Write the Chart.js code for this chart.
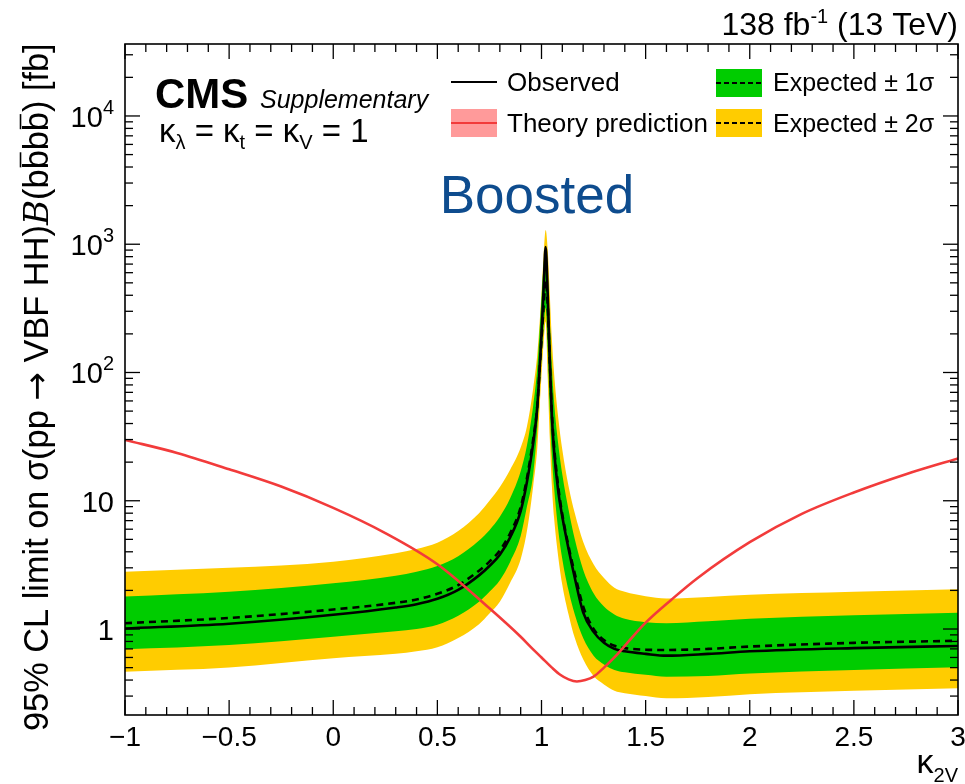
<!DOCTYPE html>
<html lang="en">
<head>
<meta charset="UTF-8">
<title>VBF HH boosted limit vs k2V</title>
<script src="https://cdn.jsdelivr.net/npm/chart.js"></script>
<style>
    body { margin: 0; background: #fff; }
    #wrap { position: relative; width: 965px; height: 784px; }
</style>
</head>
<body>
<div id="wrap"><canvas id="limitChart"></canvas></div>
<script>
// kappa_2V scan points for the limit curves (dense around the peak near 1)
const kappa = [-1, -0.5, 0, 0.3, 0.4, 0.5, 0.6, 0.7, 0.75, 0.8, 0.85, 0.9, 0.93, 0.96, 0.98, 0.99, 1.0, 1.01, 1.02,
               1.03, 1.04, 1.05, 1.06, 1.08, 1.1, 1.13, 1.16, 1.2, 1.25, 1.3, 1.35, 1.4, 1.5, 1.6, 1.8, 2.0, 2.5, 3.0];

// limits in fb
const observed = [1.01, 1.10, 1.29, 1.47, 1.56, 1.72, 2.02, 2.62, 3.1, 3.8, 5.2, 8.3, 14, 28, 55, 100, 200, 450, 950,
                  400, 120, 45, 25, 12, 7.5, 4.2, 2.5, 1.35, 0.95, 0.78, 0.70, 0.67, 0.64, 0.62, 0.64, 0.67, 0.71, 0.737];
const expected = [1.11, 1.22, 1.42, 1.60, 1.70, 1.88, 2.2, 2.85, 3.35, 4.1, 5.6, 8.9, 15, 30, 55, 100, 180, 330, 520,
                  330, 120, 48, 27, 13, 7.8, 4.4, 2.7, 1.5, 1.0, 0.82, 0.74, 0.71, 0.69, 0.686, 0.70, 0.73, 0.78, 0.81];
const plus1 = [1.79, 1.95, 2.27, 2.6, 2.8, 3.1, 3.7, 4.9, 5.9, 7.5, 10.5, 17, 27, 55, 110, 200, 380, 680, 930,
               600, 250, 110, 60, 28, 16, 8.5, 5, 2.9, 1.9, 1.5, 1.3, 1.2, 1.13, 1.11, 1.15, 1.2, 1.28, 1.34];
const minus1 = [0.695, 0.75, 0.871, 0.96, 1.0, 1.08, 1.27, 1.63, 1.95, 2.4, 3.35, 5.3, 9, 16, 38, 70, 130, 220, 320,
                150, 50, 22, 13, 6, 3.5, 2.0, 1.3, 0.85, 0.62, 0.53, 0.48, 0.46, 0.44, 0.425, 0.43, 0.45, 0.48, 0.503];
const plus2 = [2.80, 3.0, 3.35, 3.9, 4.2, 4.7, 5.8, 8.0, 10.0, 12.8, 17.5, 26, 38, 75, 140, 230, 420, 800, 1290,
               900, 400, 180, 100, 45, 25, 13, 8, 4.8, 3.2, 2.5, 2.1, 1.95, 1.8, 1.73, 1.78, 1.85, 1.95, 2.04];
const minus2 = [0.465, 0.50, 0.591, 0.64, 0.67, 0.72, 0.85, 1.09, 1.32, 1.63, 2.3, 3.5, 5.8, 13, 26, 50, 95, 170, 250,
                90, 30, 13, 7.5, 3.7, 2.2, 1.3, 0.85, 0.58, 0.43, 0.37, 0.33, 0.315, 0.30, 0.288, 0.295, 0.31, 0.33, 0.345];

// theory prediction for VBF HH -> bbbb
const theoryKappa = [-1, -0.75, -0.5, -0.25, 0, 0.25, 0.5, 0.75, 0.9, 0.95, 1.0, 1.05, 1.09, 1.13, 1.17, 1.21, 1.25,
                     1.3, 1.35, 1.4, 1.5, 1.625, 1.75, 2.0, 2.25, 2.5, 2.75, 3.0];
const theory = [29.8, 23.6, 17.6, 12.9, 8.8, 5.6, 3.2, 1.45, 0.87, 0.72, 0.60, 0.50, 0.44, 0.405, 0.39, 0.40, 0.425,
                0.50, 0.60, 0.74, 1.12, 1.7, 2.5, 4.75, 7.9, 11.6, 16.1, 21.4];

// axis ticks and labels
const xLabelValues = [-1, -0.5, 0, 0.5, 1, 1.5, 2, 2.5, 3];
const xLabels = ['\u22121', '\u22120.5', '0', '0.5', '1', '1.5', '2', '2.5', '3'];
const yLabelValues = [1, 10, 100, 1000, 10000];
const yLabelBase = ['1', '10', '10', '10', '10'];
const yLabelExp = ['', '', '2', '3', '4'];

const X_MIN = -1, X_MAX = 3, Y_MIN = 0.2136, Y_MAX = 36400;
const YELLOW = '#ffcc00', GREEN = '#00cc00', RED = '#f23b3b';
const FONT = '"Liberation Sans", Arial, sans-serif';
const ARROW_FONT = '"DejaVu Sans", sans-serif';

const pts = (xs, ys) => xs.map((k, i) => ({ x: k, y: ys[i] }));

function line(ctx, x1, y1, x2, y2) {
    ctx.beginPath();
    ctx.moveTo(x1, y1);
    ctx.lineTo(x2, y2);
    ctx.stroke();
}

// text with optional sub/superscript pieces: [text, fontSize, dy, style]
function drawRich(ctx, x, y, parts) {
    let cx = x;
    for (const [t, size, dy, style] of parts) {
        ctx.font = (style || '') + ' ' + size + 'px ' + FONT;
        ctx.fillText(t, cx, y + (dy || 0));
        cx += ctx.measureText(t).width;
    }
    return cx;
}

// y title pieces: [text, font family, italic, overline]
const titlePieces = [
    ['95% CL limit on \u03c3(pp ', FONT, false, false],
    ['\u2192', ARROW_FONT, false, false],
    [' VBF HH)', FONT, false, false],
    ['B', '"DejaVu Serif", serif', true, false],
    ['(b', FONT, false, false],
    ['b', FONT, false, true],
    ['b', FONT, false, false],
    ['b', FONT, false, true],
    [') [fb]', FONT, false, false]
];

const overlay = {
    id: 'cmsOverlay',
    afterDraw(chart) {
        const { ctx, chartArea: a, scales: { x, y } } = chart;
        ctx.save();
        ctx.strokeStyle = '#000';
        ctx.fillStyle = '#000';

        // frame
        ctx.lineWidth = 1.6;
        ctx.strokeRect(a.left, a.top, a.right - a.left, a.bottom - a.top);

        // x ticks, inward on bottom and top
        ctx.lineWidth = 1.3;
        for (let i = 0; i <= 40; i++) {
            const px = x.getPixelForValue(X_MIN + i * 0.1);
            const len = i % 5 === 0 ? 15 : 8;
            line(ctx, px, a.bottom, px, a.bottom - len);
            line(ctx, px, a.top, px, a.top + len);
        }
        // y ticks, inward on left and right
        for (let d = -1; d <= 4; d++) {
            for (let m = 1; m <= 9; m++) {
                const v = m * Math.pow(10, d);
                if (v < Y_MIN || v > Y_MAX) continue;
                const py = y.getPixelForValue(v);
                const len = m === 1 ? 15 : 8;
                line(ctx, a.left, py, a.left + len, py);
                line(ctx, a.right, py, a.right - len, py);
            }
        }

        // x tick labels
        ctx.font = '28px ' + FONT;
        ctx.textAlign = 'center';
        ctx.textBaseline = 'alphabetic';
        xLabelValues.forEach((v, i) => {
            ctx.fillText(xLabels[i], x.getPixelForValue(v), a.bottom + 31);
        });

        // y tick labels (powers of ten)
        ctx.textAlign = 'left';
        yLabelValues.forEach((v, i) => {
            const py = y.getPixelForValue(v) + 11;
            ctx.font = '29px ' + FONT;
            const wBase = ctx.measureText(yLabelBase[i]).width;
            ctx.font = '20px ' + FONT;
            const wExp = yLabelExp[i] ? ctx.measureText(yLabelExp[i]).width : 0;
            const x0 = a.left - 11 - wBase - wExp;
            drawRich(ctx, x0, py, [[yLabelBase[i], 29], [yLabelExp[i], 20, -13]]);
        });

        // x axis title
        ctx.textAlign = 'right';
        ctx.font = '20px ' + FONT;
        const wSub = ctx.measureText('2V').width;
        ctx.fillText('2V', a.right, 782);
        ctx.font = '34px ' + FONT;
        ctx.fillText('\u03ba', a.right - wSub, 773);

        // y axis title, rotated, spanning the frame height
        const setFont = (p, fs) => { ctx.font = (p[2] ? 'italic ' : '') + fs + 'px ' + p[1]; };
        let wTitle = 0;
        for (const p of titlePieces) { setFont(p, 34); wTitle += ctx.measureText(p[0]).width; }
        const fs = 34 * 688 / wTitle;
        ctx.save();
        ctx.translate(48, 731);
        ctx.rotate(-Math.PI / 2);
        ctx.textAlign = 'left';
        let cx = 0;
        for (const p of titlePieces) {
            setFont(p, fs);
            ctx.fillText(p[0], cx, 0);
            const w = ctx.measureText(p[0]).width;
            if (p[3]) {
                ctx.lineWidth = 1.6;
                line(ctx, cx + 2, -fs * 0.8, cx + w - 2, -fs * 0.8);
            }
            cx += w;
        }
        ctx.restore();

        // luminosity label
        ctx.textAlign = 'left';
        const lumiParts = [['138 fb', 32], ['-1', 20, -12], [' (13 TeV)', 32]];
        let wl = 0;
        for (const [t, s] of lumiParts) { ctx.font = s + 'px ' + FONT; wl += ctx.measureText(t).width; }
        drawRich(ctx, a.right - wl, 35, lumiParts);

        // CMS label
        ctx.font = 'bold 42px ' + FONT;
        ctx.fillText('CMS', 155, 108);
        ctx.font = 'italic 25px ' + FONT;
        ctx.fillText('Supplementary', 260, 108);
        drawRich(ctx, 159, 142, [
            ['\u03ba', 33], ['\u03bb', 20, 7], [' = \u03ba', 33], ['t', 20, 7],
            [' = \u03ba', 33], ['V', 20, 7], [' = 1', 33]
        ]);

        // region label
        ctx.fillStyle = '#0e4c8e';
        ctx.font = '53px ' + FONT;
        ctx.textAlign = 'center';
        ctx.fillText('Boosted', 537, 213);

        // legend
        ctx.textAlign = 'left';
        ctx.fillStyle = '#000';
        ctx.lineWidth = 2.2;
        line(ctx, 451, 82, 497, 82);
        ctx.fillStyle = '#ff9a9a';
        ctx.fillRect(451, 109, 46, 28);
        ctx.strokeStyle = RED;
        line(ctx, 451, 123, 497, 123);
        ctx.fillStyle = GREEN;
        ctx.fillRect(716, 69, 46, 28);
        ctx.fillStyle = YELLOW;
        ctx.fillRect(716, 109, 46, 28);
        ctx.strokeStyle = '#000';
        ctx.setLineDash([5, 3]);
        line(ctx, 716, 83, 762, 83);
        line(ctx, 716, 123, 762, 123);
        ctx.setLineDash([]);
        ctx.fillStyle = '#000';
        ctx.font = '26px ' + FONT;
        ctx.fillText('Observed', 507, 91);
        ctx.fillText('Theory prediction', 507, 132);
        ctx.font = '25px ' + FONT;
        ctx.fillText('Expected \u00b1 1\u03c3', 773, 91);
        ctx.fillText('Expected \u00b1 2\u03c3', 773, 132);

        ctx.restore();
    }
};

const band = (data, color, fillTo, order) => ({
    data, fill: fillTo, backgroundColor: color, borderWidth: 0, borderColor: color,
    cubicInterpolationMode: 'monotone', order
});

new Chart(document.getElementById('limitChart'), {
    type: 'line',
    data: {
        datasets: [
            band(pts(kappa, plus2), YELLOW, 1, 6),
            band(pts(kappa, minus2), YELLOW, false, 6),
            band(pts(kappa, plus1), GREEN, 3, 5),
            band(pts(kappa, minus1), GREEN, false, 5),
            {
                data: pts(kappa, expected), borderColor: '#000', borderWidth: 2.6, borderDash: [7, 5],
                fill: false, cubicInterpolationMode: 'monotone', order: 3
            },
            {
                data: pts(kappa, observed), borderColor: '#000', borderWidth: 2.6,
                fill: false, cubicInterpolationMode: 'monotone', order: 2
            },
            {
                data: pts(theoryKappa, theory), borderColor: RED, borderWidth: 2.6,
                fill: false, cubicInterpolationMode: 'monotone', order: 1
            }
        ]
    },
    options: {
        responsive: true,
        maintainAspectRatio: false,
        animation: false,
        layout: { padding: { left: 125, right: 7, top: 44, bottom: 69 } },
        elements: { point: { radius: 0 } },
        plugins: { legend: { display: false }, tooltip: { enabled: false } },
        scales: {
            x: { type: 'linear', min: X_MIN, max: X_MAX, display: false },
            y: { type: 'logarithmic', min: Y_MIN, max: Y_MAX, display: false }
        }
    },
    plugins: [overlay]
});
</script>
</body>
</html>
